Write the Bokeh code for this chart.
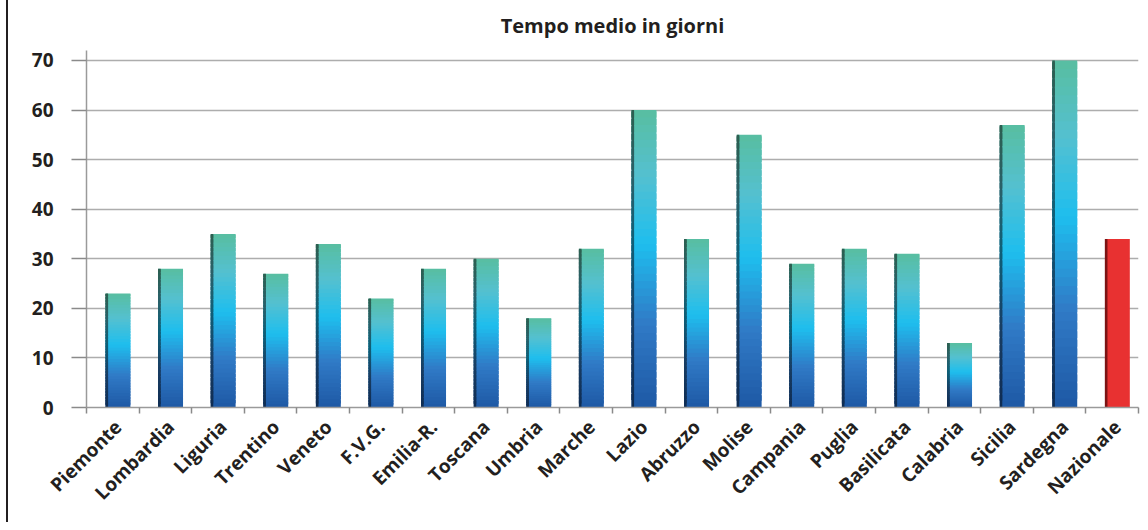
import math
from bokeh.plotting import figure
from bokeh.layouts import row
from bokeh.models import ColumnDataSource, Range1d, FixedTicker, Div, Spacer
from bokeh.transform import dodge
from bokeh.embed import file_html
from bokeh.resources import INLINE

# ---- data ----
regions = ["Piemonte", "Lombardia", "Liguria", "Trentino", "Veneto", "F.V.G.",
           "Emilia-R.", "Toscana", "Umbria", "Marche", "Lazio", "Abruzzo",
           "Molise", "Campania", "Puglia", "Basilicata", "Calabria", "Sicilia",
           "Sardegna", "Nazionale"]
values = [23, 28, 35, 27, 33, 22, 28, 30, 18, 32, 60, 34, 55, 29, 32, 31, 13, 57, 70, 34]
highlight = "Nazionale"
y_ticks = [0, 10, 20, 30, 40, 50, 60, 70]
title_text = "Tempo medio in giorni"

# ---- style ----
FONT = "Open Sans"
TXT = "#231f20"
stops = [(0.0, (30, 88, 164)), (0.28, (48, 122, 198)), (0.55, (30, 190, 238)),
         (0.78, (84, 192, 208)), (1.0, (88, 190, 160))]
N = 40
H = 522


def grad(t):
    for (t0, c0), (t1, c1) in zip(stops[:-1], stops[1:]):
        if t0 <= t <= t1:
            f = (t - t0) / (t1 - t0)
            return tuple(int(round(a + (b - a) * f)) for a, b in zip(c0, c1))
    return stops[-1][1]


def hexc(c, k=1.0):
    return "#%02x%02x%02x" % tuple(max(0, min(255, int(v * k))) for v in c)


xs, bots, tops, cols, edges = [], [], [], [], []
for i, (name, v) in enumerate(zip(regions, values)):
    if name == highlight:
        xs.append(i); bots.append(0); tops.append(v)
        cols.append("#e83131"); edges.append("#7c1414")
        continue
    for k in range(N):
        t = (k + 0.5) / N
        c = grad(t)
        xs.append(i); bots.append(v * k / N); tops.append(min(v, v * (k + 1.8) / N))
        cols.append(hexc(c)); edges.append(hexc(c, 0.5))

src = ColumnDataSource(dict(x=xs, bottom=bots, top=tops, color=cols, edge=edges))

p = figure(width=1132, height=H, x_range=Range1d(-0.6, 19.4), y_range=Range1d(0, 72),
           output_backend="svg", toolbar_location=None,
           min_border_left=78, min_border_right=2, min_border_top=50,
           min_border_bottom=H - 407)
p.outline_line_color = None
p.background_fill_color = "white"
p.border_fill_color = "white"

p.vbar(x="x", bottom="bottom", top="top", width=0.47, source=src,
       fill_color="color", line_color=None)
p.vbar(x=dodge("x", -0.215, range=p.x_range), bottom="bottom", top="top", width=0.05,
       source=src, fill_color="edge", line_color=None)

p.title.text = title_text
p.title.align = "center"
p.title.vertical_align = "top"
p.title.text_font = FONT
p.title.text_font_size = "20px"
p.title.text_font_style = "bold"
p.title.text_color = TXT
p.title.standoff = 20

p.xgrid.visible = False
p.ygrid.ticker = FixedTicker(ticks=y_ticks)
p.ygrid.grid_line_color = "#adadad"
p.ygrid.grid_line_width = 1.6

p.yaxis.ticker = FixedTicker(ticks=y_ticks)
p.yaxis.axis_line_color = "#9a9a9a"
p.yaxis.axis_line_width = 1.5
p.yaxis.major_tick_line_color = "#8a8a8a"
p.yaxis.major_tick_line_width = 1.5
p.yaxis.major_tick_out = 15
p.yaxis.major_tick_in = 0
p.yaxis.minor_tick_line_color = None
p.yaxis.major_label_standoff = 18
p.yaxis.major_label_text_font = FONT
p.yaxis.major_label_text_font_size = "19px"
p.yaxis.major_label_text_font_style = "bold"
p.yaxis.major_label_text_color = TXT

p.xaxis.ticker = FixedTicker(ticks=list(range(len(regions))),
                             minor_ticks=[i - 0.6 for i in range(len(regions) + 1)])
p.xaxis.major_label_overrides = {i: n for i, n in enumerate(regions)}
p.xaxis.major_label_orientation = math.pi / 4
p.xaxis.major_tick_out = 0
p.xaxis.major_tick_in = 0
p.xaxis.minor_tick_out = 6
p.xaxis.minor_tick_in = 0
p.xaxis.minor_tick_line_color = "#8a8a8a"
p.xaxis.minor_tick_line_width = 1.5
p.xaxis.axis_line_color = "#9a9a9a"
p.xaxis.axis_line_width = 1.5
p.xaxis.major_label_standoff = 10
p.xaxis.major_label_text_font = FONT
p.xaxis.major_label_text_font_size = "19px"
p.xaxis.major_label_text_font_style = "bold"
p.xaxis.major_label_text_color = TXT

edge_line = Div(width=2, height=H, margin=0, styles={"background-color": "#231f20"})
layout = row(Spacer(width=6, height=H, margin=0), edge_line, p, spacing=0)

open("out.html", "w").write(file_html(layout, INLINE))
